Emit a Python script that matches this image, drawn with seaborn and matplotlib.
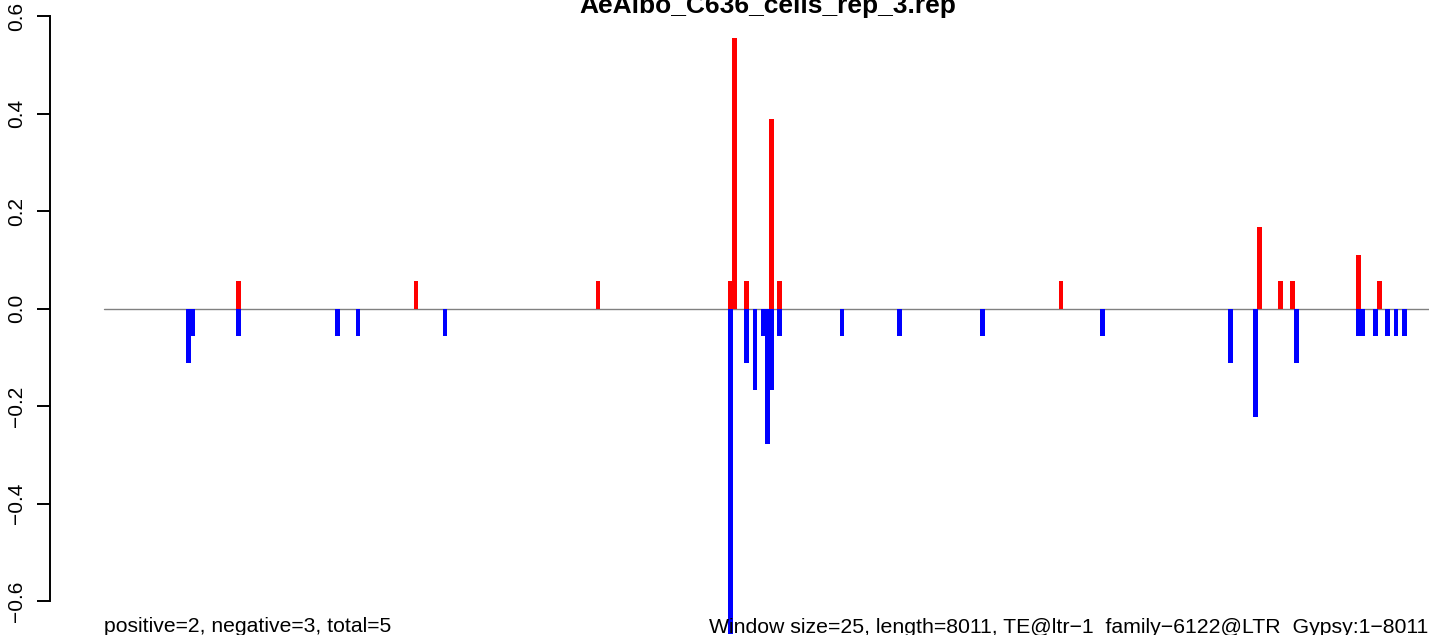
import pandas as pd
import matplotlib
matplotlib.use("Agg")
import matplotlib.pyplot as plt
import seaborn as sns

# TE coverage profile, window size 25 bp over an 8011 bp element
window_size = 25
te_length = 8011
title = "AeAlbo_C636_cells_rep_3.rep"
left_note = "positive=2, negative=3, total=5"
right_note = "Window size=25, length=8011, TE@ltr\u22121_family\u22126122@LTR_Gypsy:1\u22128011"

# positive (red) windows and values
pos_windows = [33, 76, 120, 152, 153, 156, 162, 164, 232, 280, 285, 288, 304, 309]
pos_values = [0.056, 0.056, 0.056, 0.056, 0.556, 0.056, 0.389, 0.056,
              0.056, 0.167, 0.056, 0.056, 0.111, 0.056]

# negative (blue) windows and values
neg_windows = [21, 22, 33, 57, 62, 83, 152, 156, 158, 160, 161, 162, 164,
               179, 193, 213, 242, 273, 279, 289, 304, 305, 308, 311, 313, 315]
neg_values = [-0.111, -0.056, -0.056, -0.056, -0.056, -0.056, -0.667, -0.111,
              -0.167, -0.056, -0.278, -0.167, -0.056,
              -0.056, -0.056, -0.056, -0.056, -0.111, -0.222, -0.111,
              -0.056, -0.056, -0.056, -0.056, -0.056, -0.056]

y_ticks = [-0.6, -0.4, -0.2, 0.0, 0.2, 0.4, 0.6]

df = pd.concat([
    pd.DataFrame({"window": pos_windows, "value": pos_values, "sign": "positive"}),
    pd.DataFrame({"window": neg_windows, "value": neg_values, "sign": "negative"}),
], ignore_index=True)
df["pos"] = (df["window"] - 0.5) * window_size

sns.set_style("white")
plt.rcParams["font.family"] = ["Liberation Sans", "DejaVu Sans"]
plt.rcParams["text.color"] = "black"

W, H = 1429, 635
fig = plt.figure(figsize=(W / 100, H / 100), dpi=100)
ax = fig.add_axes([50 / W, (H - 659.7) / H, 1379 / W, (659.7 - 6.45) / H])

ax.plot([1, te_length], [0, 0], color="#808080", lw=1.0, zorder=1)
sns.barplot(data=df, x="pos", y="value", hue="sign",
            palette={"positive": "#FF0000", "negative": "#0000FF"},
            native_scale=True, dodge=False, width=1.15, saturation=1,
            linewidth=0, errorbar=None, legend=False, orient="v", ax=ax)
for p in ax.patches:
    p.set_zorder(2)

ax.set_xlim(-325, 8012)
ax.set_ylim(-0.72, 0.62)
ax.set_xticks([])
ax.set_xlabel("")
ax.set_ylabel("")
for s in ["top", "right", "bottom"]:
    ax.spines[s].set_visible(False)
ax.spines["left"].set_bounds(-0.6, 0.6)
ax.spines["left"].set_linewidth(1.4)
ax.spines["left"].set_color("black")
ax.set_yticks(y_ticks)
ax.set_yticklabels([f"{t:.1f}".replace("-", "\u2212") for t in y_ticks])
ax.tick_params(axis="y", left=True, length=9.4, width=1.4, pad=8,
               labelsize=15, colors="black")
plt.setp(ax.get_yticklabels(), rotation=90, va="center")

fig.text(768 / W, (H - 12.7) / H, title, ha="center", va="baseline",
         fontsize=19, fontweight="bold", color="black")
fig.text(103.5 / W, 2.5 / H, left_note, ha="left", va="baseline",
         fontsize=15.2, color="black")
fig.text(1428 / W, 2.5 / H, right_note, ha="right", va="baseline",
         fontsize=15.3, color="black")

fig.savefig("out.png", dpi=100)
